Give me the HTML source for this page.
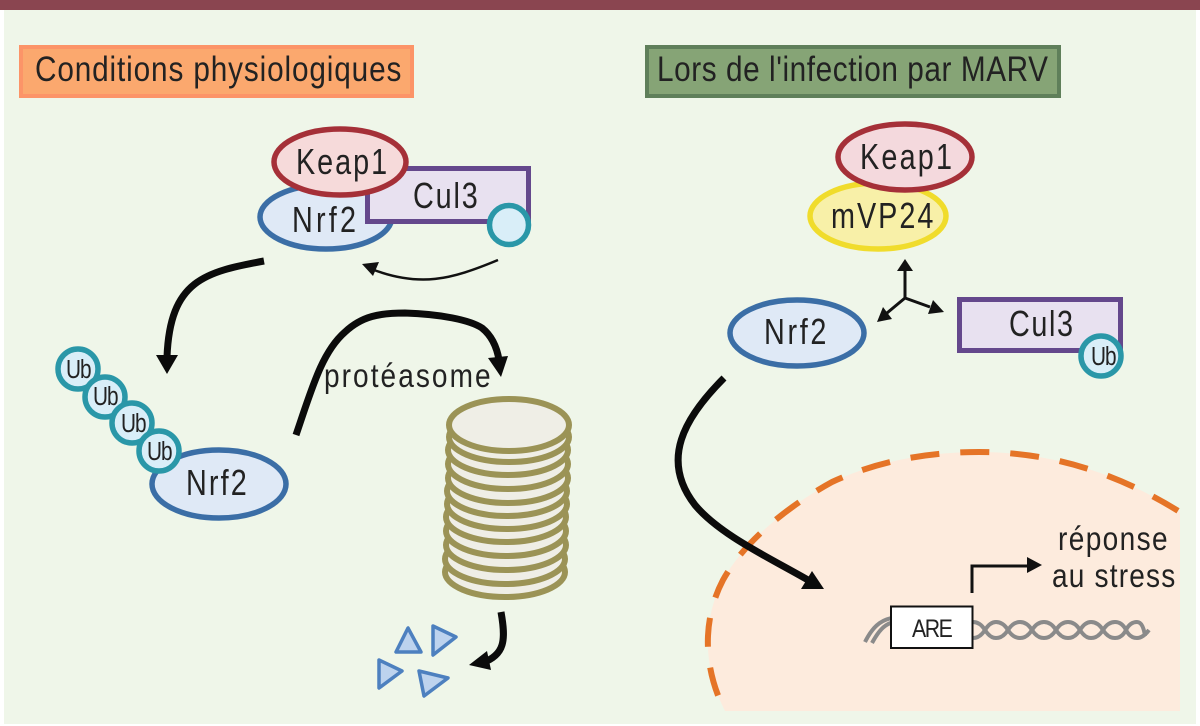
<!DOCTYPE html>
<html lang="fr"><head><meta charset="utf-8"><title>Nrf2 MARV</title>
<style>
html,body{margin:0;padding:0;background:#fff;width:1200px;height:726px;overflow:hidden}
svg{display:block}
text{font-family:"Liberation Sans",sans-serif;fill:#222}
</style></head><body>
<svg width="1200" height="726" viewBox="0 0 1200 726" xmlns="http://www.w3.org/2000/svg">
<rect x="4" y="10" width="1192" height="714" fill="#eff6e9"/>
<rect x="0" y="0" width="1200" height="10" fill="#8a4550"/>

<!-- headers -->
<rect x="21" y="47" width="391" height="49" fill="#fba86e" stroke="#fc9468" stroke-width="4"/>
<text transform="translate(35 81) scale(.85 1)" font-size="35" textLength="431" lengthAdjust="spacing">Conditions physiologiques</text>
<rect x="647" y="47" width="412" height="49" fill="#86a476" stroke="#5f7f5a" stroke-width="4"/>
<text transform="translate(657 81) scale(.85 1)" font-size="35" textLength="460" lengthAdjust="spacing">Lors de l'infection par MARV</text>

<!-- nucleus -->
<path d="M725 711C703 668 702 620 723 580C745 540 790 505 832 482C880 460 930 452 979 452C1060 452 1125 478 1180 512L1180 711Z" fill="#fdebdd"/>
<path d="M725 711C703 668 702 620 723 580C745 540 790 505 832 482C880 460 930 452 979 452C1060 452 1125 478 1180 512" fill="none" stroke="#e57427" stroke-width="6" stroke-dasharray="29 21" stroke-dashoffset="-17"/>

<!-- left complex -->
<ellipse cx="326" cy="217" rx="66" ry="32" fill="#dfe9f6" stroke="#3b6ea6" stroke-width="5.500"/>
<rect x="367.500" y="168.500" width="161" height="53" fill="#e8e1f0" stroke="#64488c" stroke-width="5"/>
<ellipse cx="340" cy="162" rx="66" ry="33" fill="#f6dada" stroke="#a53038" stroke-width="5.500"/>
<circle cx="509" cy="225" r="19.500" fill="#d9eef8" stroke="#2a97a8" stroke-width="5.500"/>
<text transform="translate(296 174) scale(.8 1)" font-size="36" textLength="114" lengthAdjust="spacing">Keap1</text>
<text transform="translate(292 232) scale(.8 1)" font-size="36" textLength="80" lengthAdjust="spacing">Nrf2</text>
<text transform="translate(413 208) scale(.8 1)" font-size="36" textLength="81" lengthAdjust="spacing">Cul3</text>

<!-- thin arrow left -->
<path d="M498 260C450 280 420 287 374 270" fill="none" stroke="#111" stroke-width="2.500"/>
<polygon points="362,264 379,262 373,276" fill="#111"/>

<!-- arrow keap -> ub -->
<path d="M264 261C205 272 170 280 167 357" fill="none" stroke="#0b0b0b" stroke-width="7"/>
<polygon points="156,355 178,355 167,374" fill="#0b0b0b"/>

<!-- Nrf2 Ub chain -->
<ellipse cx="219" cy="484" rx="67" ry="34" fill="#dfe9f6" stroke="#3b6ea6" stroke-width="5.500"/>
<circle cx="78" cy="369" r="20" fill="#d9eef8" stroke="#2a97a8" stroke-width="5.500"/>
<circle cx="105" cy="397" r="20" fill="#d9eef8" stroke="#2a97a8" stroke-width="5.500"/>
<circle cx="132" cy="423" r="20" fill="#d9eef8" stroke="#2a97a8" stroke-width="5.500"/>
<circle cx="159" cy="451" r="20" fill="#d9eef8" stroke="#2a97a8" stroke-width="5.500"/>
<text transform="translate(66 378) scale(.8 1)" font-size="26" textLength="32" lengthAdjust="spacing">Ub</text>
<text transform="translate(93 405) scale(.8 1)" font-size="26" textLength="32" lengthAdjust="spacing">Ub</text>
<text transform="translate(121 432) scale(.8 1)" font-size="26" textLength="32" lengthAdjust="spacing">Ub</text>
<text transform="translate(147 460) scale(.8 1)" font-size="26" textLength="32" lengthAdjust="spacing">Ub</text>
<text transform="translate(186 495) scale(.8 1)" font-size="36" textLength="76" lengthAdjust="spacing">Nrf2</text>

<!-- proteasome arrow -->
<path d="M296 435C312 388 322 352 345 332C362 316 380 313 405 313C440 314 470 320 482 328C492 336 497 348 499 360" fill="none" stroke="#0b0b0b" stroke-width="7"/>
<polygon points="488,358 508,356 501,377" fill="#0b0b0b"/>
<text transform="translate(324 387) scale(.85 1)" font-size="33" textLength="196" lengthAdjust="spacing">protéasome</text>

<!-- proteasome stack -->
<g fill="#efeee6" stroke="#9b9356" stroke-width="6">
<ellipse cx="505" cy="572" rx="60" ry="25"/>
<ellipse cx="505" cy="559" rx="60" ry="25"/>
<ellipse cx="506" cy="545" rx="60" ry="25"/>
<ellipse cx="506" cy="531" rx="60" ry="25"/>
<ellipse cx="506" cy="517" rx="60" ry="25"/>
<ellipse cx="507" cy="504" rx="60" ry="25"/>
<ellipse cx="507" cy="491" rx="60" ry="25"/>
<ellipse cx="508" cy="478" rx="60" ry="25"/>
<ellipse cx="508" cy="464" rx="60" ry="25"/>
<ellipse cx="508" cy="450" rx="60" ry="25"/>
<ellipse cx="509" cy="437" rx="60" ry="25"/>
<ellipse cx="509" cy="425" rx="60" ry="26"/>
</g>

<!-- degradation arrow -->
<path d="M501 612C506 640 505 655 482 663" fill="none" stroke="#0b0b0b" stroke-width="7"/>
<polygon points="469,665 487,651 491,670" fill="#0b0b0b"/>
<g fill="#bdd3ee" stroke="#4d80bf" stroke-width="3.500" stroke-linejoin="round">
<polygon points="408,628 396,652 421,652"/>
<polygon points="433,626 456,637 433,655"/>
<polygon points="379,660 402,671 379,688"/>
<polygon points="419,671 448,678 424,696"/>
</g>

<!-- right complex -->
<ellipse cx="878" cy="216" rx="68" ry="33" fill="#f8f0a8" stroke="#f0dc2c" stroke-width="5.500"/>
<ellipse cx="905" cy="157" rx="67" ry="33" fill="#f4d9dd" stroke="#a53038" stroke-width="5.500"/>
<text transform="translate(860 169) scale(.8 1)" font-size="36" textLength="115" lengthAdjust="spacing">Keap1</text>
<text transform="translate(831 228) scale(.8 1)" font-size="36" textLength="128" lengthAdjust="spacing">mVP24</text>

<!-- three-way arrows -->
<path d="M905 270V298M905 298L887 313M905 298L930 307" fill="none" stroke="#111" stroke-width="3"/>
<polygon points="905,259 897,271 913,271" fill="#111"/>
<polygon points="877,322 883,307 892,319" fill="#111"/>
<polygon points="944,312 928,314 933,300" fill="#111"/>

<ellipse cx="797" cy="333" rx="67" ry="33" fill="#dfe9f6" stroke="#3b6ea6" stroke-width="5.500"/>
<text transform="translate(764 344) scale(.8 1)" font-size="36" textLength="78" lengthAdjust="spacing">Nrf2</text>
<rect x="959.500" y="299.500" width="161" height="51" fill="#e8e1f0" stroke="#64488c" stroke-width="5"/>
<text transform="translate(1009 336) scale(.8 1)" font-size="36" textLength="80" lengthAdjust="spacing">Cul3</text>
<circle cx="1101" cy="356" r="20" fill="#d9eef8" stroke="#2a97a8" stroke-width="5.500"/>
<text transform="translate(1091 365) scale(.8 1)" font-size="26" textLength="32" lengthAdjust="spacing">Ub</text>

<!-- nrf2 to nucleus arrow -->
<path d="M724 378C684 418 660 460 695 505C720 535 770 558 808 580" fill="none" stroke="#0b0b0b" stroke-width="7"/>
<polygon points="824,589 801,589 812,571" fill="#0b0b0b"/>

<!-- DNA -->
<g fill="none" stroke="#8a8a8a" stroke-width="4">
<path d="M865 642C872 628 880 620 892 618"/>
<path d="M872 643C878 632 884 624 894 622"/>
<path d="M973 622q7 0 12 8t11 8q7 0 12-8t12-8q7 0 12 8t12 8q7 0 12-8t12-8q7 0 12 8t11 8q7 0 12-8t12-8q7 0 11 8t11 8q6 0 12-8"/>
<path d="M973 638q7 0 12-8t11-8q7 0 12 8t12 8q7 0 12-8t12-8q7 0 12 8t12 8q7 0 12-8t11-8q7 0 12 8t12 8q7 0 11-8t11-8q6 0 8 14"/>
</g>
<rect x="891" y="606.500" width="81.500" height="41.500" fill="#fff" stroke="#111" stroke-width="2"/>
<text transform="translate(912 637) scale(.85 1)" font-size="25" textLength="48" lengthAdjust="spacing">ARE</text>

<!-- promoter arrow -->
<path d="M972 593V566H1028" fill="none" stroke="#111" stroke-width="3"/>
<polygon points="1042,565 1027,557 1027,573" fill="#111"/>
<text transform="translate(1058 550) scale(.85 1)" font-size="33" textLength="129" lengthAdjust="spacing">réponse</text>
<text transform="translate(1052 587) scale(.85 1)" font-size="33" textLength="145" lengthAdjust="spacing">au stress</text>
</svg>
</body></html>
